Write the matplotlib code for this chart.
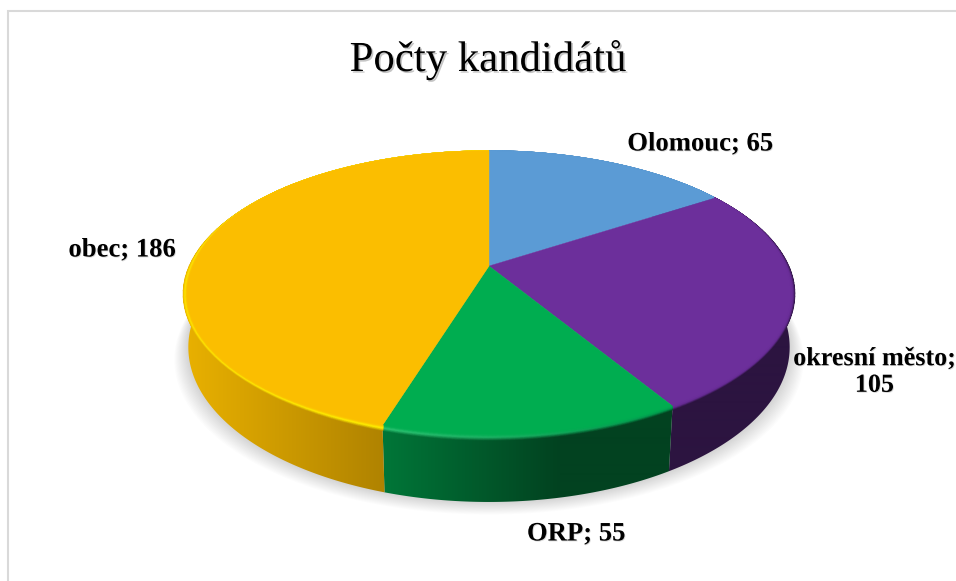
import numpy as np
import matplotlib
matplotlib.use("Agg")
import matplotlib.pyplot as plt
from matplotlib.collections import PolyCollection
from matplotlib.patches import Polygon
import matplotlib.patheffects as pe

categories = ["Olomouc", "okresní město", "ORP", "obec"]
values = [65, 105, 55, 186]
title = "Počty kandidátů"
labels = ["Olomouc; 65", "okresní město;\n105", "ORP; 55", "obec; 186"]
label_xy = [(700, 144), (874.5, 372), (576, 534), (122, 250)]
label_size = [19.2, 18.8, 19.2, 19.2]
colors = ["#5B9BD5", "#6C2F9B", "#00AD50", "#FBBE00"]
side_left = [(60, 110, 150), (44, 20, 64), (0, 118, 56), (232, 176, 0)]
side_right = [(60, 110, 150), (44, 20, 64), (2, 66, 32), (176, 131, 0)]
high_left = [(91, 155, 213), (108, 47, 155), (45, 195, 115), (255, 228, 0)]
high_right = [(91, 155, 213), (100, 42, 145), (0, 150, 75), (255, 240, 0)]

CX, CY = 489.0, 266.0
RIM = dict(A=299.6, B=138.5, k=0.204, y0=CY)
BASE = dict(A=296.0, B=150.0, k=0.1757, y0=320.0)


def proj(theta, p):
    u, v = np.sin(theta), np.cos(theta)
    w = 1 + p["k"] * v
    return CX + p["A"] * u / w, p["y0"] - p["B"] * v / w


def rim_edge(theta):
    """Outer edge of the bevel; it narrows slightly towards the front."""
    v = np.cos(theta)
    x, y = proj(theta, RIM)
    return x + (CX - x) * 0.03 * np.maximum(-v, 0) ** 2, y


def flat_edge(theta):
    """Inner edge of the bevel: the rim pulled in, most in y at the front."""
    v = np.cos(theta)
    front = np.maximum(-v, 0) ** 2
    side = 0.014 * np.clip(1 - 1.5 * v, 0, 1)
    x, y = rim_edge(theta)
    return x + (CX - x) * side * (1 - v ** 2), y + (CY - y) * (side + 0.022 * front)


def lerp(a, b, t):
    return tuple((1 - t) * x + t * y for x, y in zip(a, b))


def side_frac(i, x):
    if i == 3:
        return np.clip((x - 188) / (383 - 188), 0, 1)
    return np.clip((x - 384) / (560 - 384), 0, 1)


fig = plt.figure(figsize=(9.56, 5.81), dpi=100, facecolor="white")
ax = fig.add_axes([0, 0, 1, 1])
ax.axis("off")

# chart frame
ax.plot([8, 8, 956], [581, 11, 11], color="#D9D9D9", lw=1.5, solid_joinstyle="miter")

edges = np.concatenate([[0], np.cumsum(values)]) / np.sum(values) * 2 * np.pi

# soft shadow under the base
th = np.linspace(0, 2 * np.pi, 360)
for grow in np.linspace(14, 1, 14):
    bx, by = proj(th, BASE)
    bx = CX + (bx - CX) * (1 + grow / 300)
    by = by + grow * 0.9
    ax.add_patch(Polygon(np.c_[bx, by], closed=True, fc="black", ec="none", alpha=0.011, zorder=1))

xs = np.arange(956) + 0.5
for i in range(len(values)):
    t = np.linspace(edges[i], edges[i + 1], 200)
    tx, ty = rim_edge(t)
    fx, fy = flat_edge(t)
    bx, by = proj(t, BASE)
    flat_rgb = tuple(int(colors[i][j:j + 2], 16) for j in (1, 3, 5))

    # side wall: horizontal gradient clipped to the wall outline
    grad = np.array([lerp(side_left[i], side_right[i], side_frac(i, x)) for x in xs]) / 255
    im = ax.imshow(grad[None, :, :], extent=(0, 956, 581, 0), aspect="auto", zorder=2, interpolation="bilinear")
    wall = Polygon(np.r_[np.c_[tx, ty], np.c_[bx, by][::-1]], closed=True, transform=ax.transData, fc="none", ec="none")
    ax.add_patch(wall)
    im.set_clip_path(wall)

    # bevel
    steps = np.linspace(0, 1, 10)
    step_t = np.linspace(0, len(t) - 1, 70).astype(int)
    polys, cols = [], []
    for a, b in zip(steps[:-1], steps[1:]):
        mid = 0.5 * (a + b)
        x0, y0 = fx + (tx - fx) * a, fy + (ty - fy) * a
        x1, y1 = fx + (tx - fx) * b, fy + (ty - fy) * b
        for j0, j1 in zip(step_t[:-1], step_t[1:]):
            xm = 0.5 * (tx[j0] + tx[j1])
            fs = side_frac(i, xm)
            fh = np.clip((xm - 383) / (672 - 383), 0, 1) if i != 3 else fs
            side = lerp(side_left[i], side_right[i], fs)
            high = lerp(high_left[i], high_right[i], fh)
            if mid < 0.45:
                c = lerp(flat_rgb, high, mid / 0.45)
            else:
                c = lerp(high, side, (mid - 0.45) / 0.55)
            polys.append([(x0[j0], y0[j0]), (x0[j1], y0[j1]), (x1[j1], y1[j1]), (x1[j0], y1[j0])])
            cols.append(tuple(v / 255 for v in c))
    ax.add_collection(PolyCollection(polys[::-1], facecolors=cols[::-1], edgecolors=cols[::-1], linewidths=0.9, zorder=3))

# top faces
for i in range(len(values)):
    t = np.linspace(edges[i], edges[i + 1], 200)
    fx, fy = flat_edge(t)
    pts = np.r_[[(CX, CY)], np.c_[fx, fy]]
    ax.add_patch(Polygon(pts, closed=True, fc=colors[i], ec=colors[i], lw=0.3, zorder=4))

ax.set_xlim(0, 956)
ax.set_ylim(581, 0)

serif = "Liberation Serif"
ax.text(488, 60, title, family=serif, fontsize=30.8, ha="center", va="center", color="black", zorder=6,
        path_effects=[pe.withSimplePatchShadow(offset=(1.2, -1.2), shadow_rgbFace="#808080", alpha=0.45)])
for s, (x, y), size in zip(labels, label_xy, label_size):
    ax.text(x, y, s, family=serif, fontsize=size, fontweight="bold", ha="center", va="center",
            color="black", zorder=6, linespacing=1.2, clip_on=False,
            path_effects=[pe.withSimplePatchShadow(offset=(0.6, -0.6), shadow_rgbFace="#909090", alpha=0.35)])

fig.savefig("out.png", dpi=100, facecolor="white")
